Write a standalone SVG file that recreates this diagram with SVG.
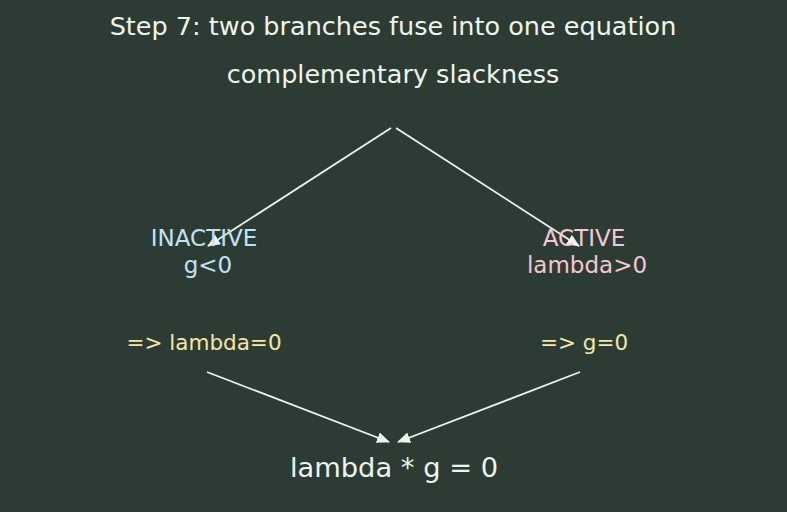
<svg xmlns="http://www.w3.org/2000/svg" width="787" height="512" viewBox="0 0 787 512">
<style>
text{font-family:"DejaVu Sans",sans-serif;text-anchor:middle}
.t{fill:#eef5ec;font-size:25.5px}
.n{font-size:23px}
.y{font-size:21.5px;fill:#f5e6a6}
.c{stroke:#eef5ec;stroke-width:1.8;fill:none}
</style>
<defs>
<marker id="ah" markerWidth="13" markerHeight="11" refX="12" refY="5.5" orient="auto" markerUnits="userSpaceOnUse">
<path d="M0,0 L13,5.5 L0,11 Z" fill="#eef5ec"/>
</marker>
</defs>
<rect width="787" height="512" fill="#2c3c35"/>
<text class="t" x="393" y="35">Step 7: two branches fuse into one equation</text>
<text class="t" x="393" y="83">complementary slackness</text>
<g id="connectors">
<line class="c" x1="391" y1="128" x2="208" y2="246" marker-end="url(#ah)"/>
<line class="c" x1="396" y1="128" x2="579" y2="246" marker-end="url(#ah)"/>
<line class="c" x1="207" y1="372" x2="389" y2="442" marker-end="url(#ah)"/>
<line class="c" x1="580" y1="372" x2="398" y2="442" marker-end="url(#ah)"/>
</g>
<g id="inactive"><text class="n" fill="#c3e1f5" x="204" y="246">INACTIVE</text><text class="n" fill="#c3e1f5" x="208" y="273">g&lt;0</text></g>
<g id="active"><text class="n" fill="#f5c6d3" x="584" y="246">ACTIVE</text><text class="n" fill="#f5c6d3" x="587" y="273">lambda&gt;0</text></g>
<g id="lam0"><text class="y" x="204" y="350">=&gt; lambda=0</text></g>
<g id="g0"><text class="y" x="584" y="350">=&gt; g=0</text></g>
<g id="result"><text fill="#eef5ec" font-size="27.3" x="394" y="477">lambda * g = 0</text></g>
</svg>
